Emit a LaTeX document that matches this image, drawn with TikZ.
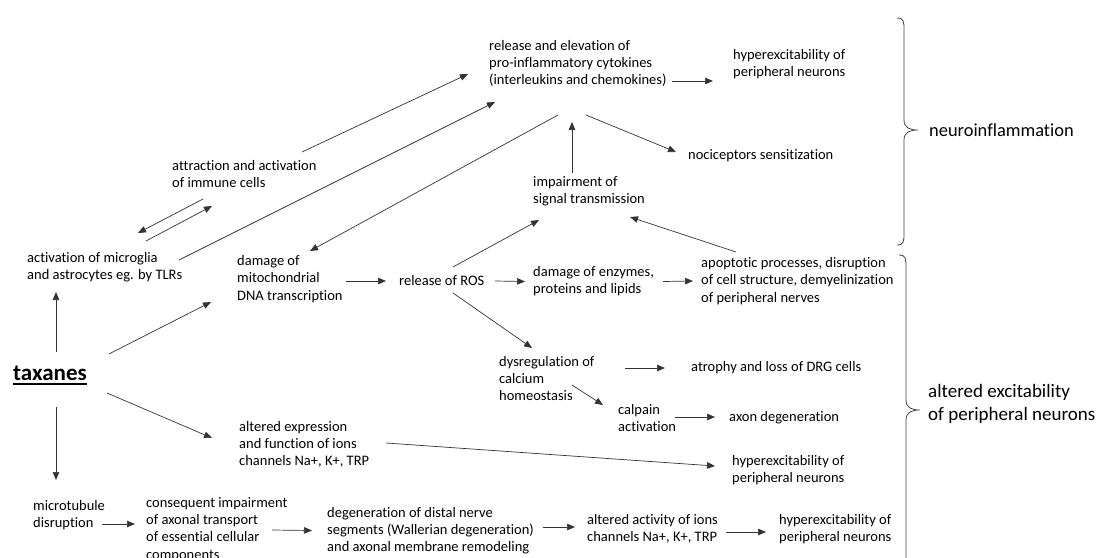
\documentclass[tikz,border=0pt]{standalone}
\usepackage{fontspec}
\setmainfont{Carlito}[Ligatures=NoCommon]
\usetikzlibrary{arrows.meta}

\begin{document}
\begin{tikzpicture}[x=1pt, y=-1pt,
  txt/.style={anchor=west, align=left, inner sep=0pt, font=\fontsize{14.5}{17.2}\selectfont},
  big/.style={anchor=west, align=left, inner sep=0pt, font=\fontsize{19}{23.5}\selectfont},
  arr/.style={-{Triangle[length=8pt,width=6.5pt]}, line width=0.7pt, black!80},
  brc/.style={line width=0.8pt, black!75}]
\useasboundingbox (0,0) rectangle (1099,557);

  % Top: inflammation chain
  \node[txt] (rel) at (489,63.5) {release and elevation of\\pro-inflammatory cytokines\\(interleukins and chemokines)};
  \node[txt] (hyp1) at (733,64) {hyperexcitability of\\peripheral neurons};
  \node[txt] (noci) at (688,156) {nociceptors sensitization};
  \node[txt] (imp) at (533,191) {impairment of\\signal transmission};
  \node[txt] (attr) at (172,174) {attraction and activation\\of immune cells};
  \node[txt] (micro) at (27,267) {activation of microglia\\and astrocytes eg. by TLRs};

  % Middle: mitochondria and ROS
  \node[txt] (dmg) at (237,279) {damage of\\mitochondrial\\DNA transcription};
  \node[txt] (ros) at (399,281) {release of ROS};
  \node[txt] (enz) at (533,281.5) {damage of enzymes,\\proteins and lipids};
  \node[txt] (apo) at (701,281) {apoptotic processes, disruption\\of cell structure, demyelinization\\of peripheral nerves};
  \node[anchor=west, inner sep=0pt, font=\fontsize{23}{27}\selectfont\bfseries] (tax) at (13,373) {taxanes};
  \draw[line width=1.8pt] ([yshift=-3.5pt]tax.base west) -- ([yshift=-3.5pt]tax.base east);
  \node[txt] (dys) at (499,378.5) {dysregulation of\\calcium\\homeostasis};
  \node[txt] (atro) at (691,368) {atrophy and loss of DRG cells};
  \node[txt] (calp) at (618,418) {calpain\\activation};
  \node[txt] (axon) at (729,418) {axon degeneration};
  \node[txt] (alt) at (239,444.5) {altered expression\\and function of ions\\channels Na+, K+, TRP};
  \node[txt] (hyp2) at (732,470.5) {hyperexcitability of\\peripheral neurons};

  % Bottom row: microtubules
  \node[txt] (mt) at (33,515) {microtubule\\disruption};
  \node[txt] (cons) at (146,529.5) {consequent impairment\\of axonal transport\\of essential cellular\\components};
  \node[txt] (deg) at (327,530.5) {degeneration of distal nerve\\segments (Wallerian degeneration)\\and axonal membrane remodeling};
  \node[txt] (altact) at (587,528.5) {altered activity of ions\\channels Na+, K+, TRP};
  \node[txt] (hyp3) at (779,529) {hyperexcitability of\\peripheral neurons};

  % Groups on the right
  \node[big, font=\fontsize{18.4}{22}\selectfont] (neuro) at (929,130) {neuroinflammation};
  \node[big] (altexc) at (928,404) {altered excitability\\of peripheral neurons};
  \draw[brc] (897,18) .. controls (904,18) and (904,22) .. (904,30) -- (904,120)
    .. controls (904,128) and (910,130) .. (918,130) .. controls (910,130) and (904,132) .. (904,140)
    -- (904,233) .. controls (904,241) and (904,245) .. (897,245);
  \draw[brc] (899,255) .. controls (906,255) and (906,259) .. (906,267) -- (906,400)
    .. controls (906,408) and (912,410) .. (920,410) .. controls (912,410) and (906,412) .. (906,420)
    -- (906,553) .. controls (906,561) and (906,565) .. (899,565);

  % Arrows from taxanes
  \draw[arr] ([shift={(43,-21)}]tax.west) -- ([shift={(29,25)}]micro.west);
  \draw[arr] ([shift={(96,-19)}]tax.west) -- ([shift={(-26,23)}]dmg.west);
  \draw[arr] ([shift={(94,20)}]tax.west) -- ([shift={(-27,-6.5)}]alt.west);
  \draw[arr] ([shift={(43,34)}]tax.west) -- ([shift={(23,-35)}]mt.west);

  % Arrows, upper part
  \draw[arr] ([shift={(31,25)}]attr.west) -- ([shift={(111,-34)}]micro.west);
  \draw[arr] ([shift={(119,-26)}]micro.west) -- ([shift={(40,32)}]attr.west);
  \draw[arr] ([shift={(130,-22)}]attr.west) -- ([shift={(-21,10.5)}]rel.west);
  \draw[arr] ([shift={(152,-7)}]micro.west) -- ([shift={(6,38.5)}]rel.west);
  \draw[arr] ([shift={(69,51.5)}]rel.west) -- ([shift={(73,-28)}]dmg.west);
  \draw[arr] ([shift={(97,51.5)}]rel.west) -- ([shift={(-12,-4)}]noci.west);
  \draw[arr] ([shift={(39,-18)}]imp.west) -- ([shift={(83,58.5)}]rel.west);
  \draw[arr] ([shift={(183,17.5)}]rel.west) -- ([shift={(-20,17)}]hyp1.west);

  % Arrows, middle part
  \draw[arr] ([shift={(109,2)}]dmg.west) -- ([shift={(-13,0)}]ros.west);
  \draw[arr] ([shift={(96,0)}]ros.west) -- ([shift={(-8,0)}]enz.west);
  \draw[arr] ([shift={(130,0)}]enz.west) -- ([shift={(-8,0)}]apo.west);
  \draw[arr] ([shift={(54,-14)}]ros.west) -- ([shift={(6,29)}]imp.west);
  \draw[arr] ([shift={(35,-29)}]apo.west) -- ([shift={(97,26)}]imp.west);
  \draw[arr] ([shift={(54,12)}]ros.west) -- ([shift={(33,-30.5)}]dys.west);
  \draw[arr] ([shift={(126,-10.5)}]dys.west) -- ([shift={(-26,0)}]atro.west);
  \draw[arr] ([shift={(73,6.5)}]dys.west) -- ([shift={(-15,-13)}]calp.west);
  \draw[arr] ([shift={(57,-1)}]calp.west) -- ([shift={(-14,-1)}]axon.west);
  \draw[arr] ([shift={(147,-1.5)}]alt.west) -- ([shift={(-17,-4.5)}]hyp2.west);

  % Arrows, bottom row
  \draw[arr] ([shift={(69,9)}]mt.west) -- ([shift={(-11,-5.5)}]cons.west);
  \draw[arr] ([shift={(126,0.5)}]cons.west) -- ([shift={(-15,0)}]deg.west);
  \draw[arr] ([shift={(216,-3.5)}]deg.west) -- ([shift={(-12,-1.5)}]altact.west);
  \draw[arr] ([shift={(139,3.5)}]altact.west) -- ([shift={(-13,3)}]hyp3.west);
\end{tikzpicture}
\end{document}
